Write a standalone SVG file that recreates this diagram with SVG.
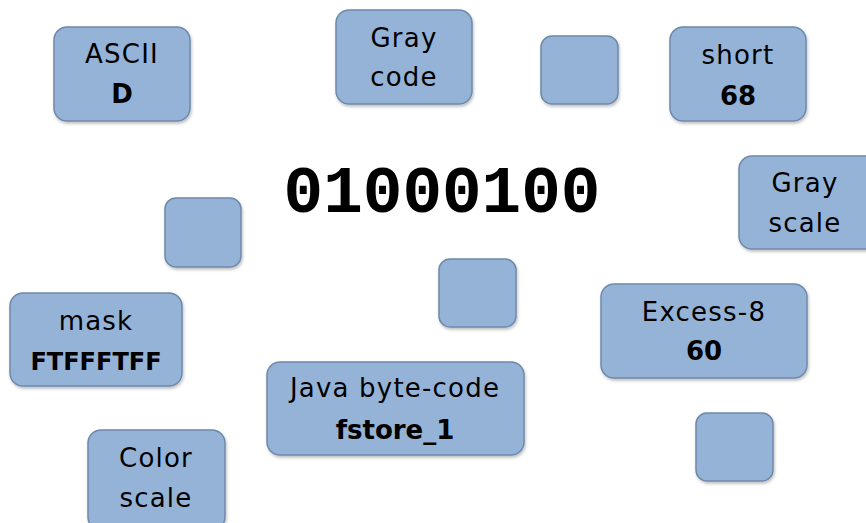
<svg xmlns="http://www.w3.org/2000/svg" width="866" height="523" viewBox="0 0 866 523">
<defs>
<filter id="sh" x="-10%" y="-10%" width="130%" height="130%">
<feDropShadow dx="1" dy="2" stdDeviation="1.5" flood-color="#000" flood-opacity="0.25"/>
</filter>
<style>
.b{fill:#95b3d7;stroke:#6d89ab;stroke-width:1.5;filter:url(#sh)}
.t{font-family:"DejaVu Sans","Liberation Sans",sans-serif;font-size:26px;letter-spacing:1.2px;fill:#000;text-anchor:middle}
.bd{font-weight:bold;letter-spacing:0}
.num{font-family:"Liberation Mono","DejaVu Sans Mono",monospace;font-size:66px;font-weight:bold;fill:#000;text-anchor:middle}
</style>
</defs>
<rect width="866" height="523" fill="#fff"/>
<g id="center"><text class="num" x="442" y="212">01000100</text></g>
<g id="ascii"><rect class="b" x="54" y="27" width="136" height="94" rx="13"/><text class="t" x="122" y="63">ASCII</text><text class="t bd" x="122" y="103">D</text></g>
<g id="graycode"><rect class="b" x="336" y="10" width="136" height="94" rx="13"/><text class="t" x="404" y="47">Gray</text><text class="t" x="404" y="86">code</text></g>
<g id="empty1"><rect class="b" x="541" y="36" width="77" height="68" rx="11"/></g>
<g id="short"><rect class="b" x="670" y="27" width="136" height="94" rx="13"/><text class="t" x="738" y="64">short</text><text class="t bd" x="738" y="105">68</text></g>
<g id="grayscale"><rect class="b" x="739" y="156" width="140" height="93" rx="13"/><text class="t" x="805" y="192">Gray</text><text class="t" x="805" y="232">scale</text></g>
<g id="empty2"><rect class="b" x="165" y="198" width="76" height="69" rx="11"/></g>
<g id="empty3"><rect class="b" x="439" y="259" width="77" height="68" rx="11"/></g>
<g id="mask"><rect class="b" x="10" y="293" width="172" height="93" rx="13"/><text class="t" x="96" y="330">mask</text><text class="t bd" x="96" y="370" style="font-size:24px">FTFFFTFF</text></g>
<g id="excess8"><rect class="b" x="601" y="284" width="206" height="94" rx="13"/><text class="t" x="704" y="321">Excess-8</text><text class="t bd" x="704" y="360">60</text></g>
<g id="java"><rect class="b" x="267" y="362" width="257" height="93" rx="13"/><text class="t" x="395" y="397">Java byte-code</text><text class="t bd" x="395" y="439">fstore_1</text></g>
<g id="empty4"><rect class="b" x="696" y="413" width="77" height="68" rx="11"/></g>
<g id="colorscale"><rect class="b" x="88" y="430" width="137" height="100" rx="13"/><text class="t" x="156" y="467">Color</text><text class="t" x="156" y="507">scale</text></g>
<g id="connectors"/>
</svg>
